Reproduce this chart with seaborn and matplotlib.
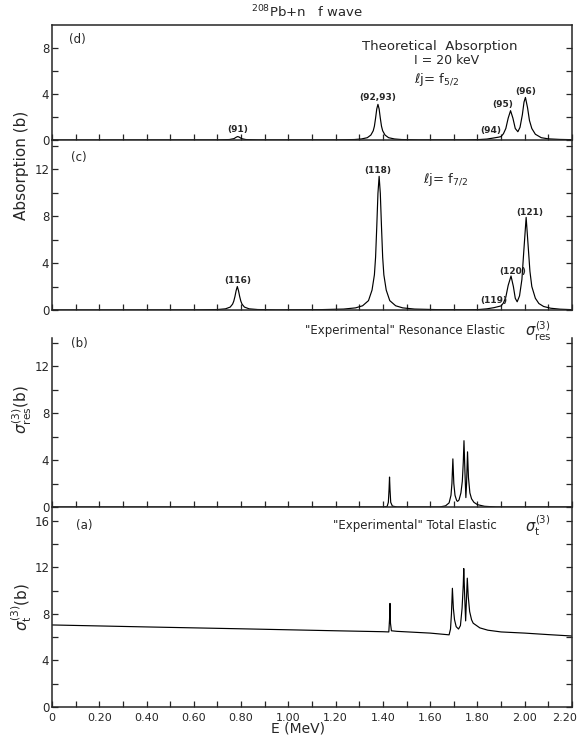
import matplotlib
matplotlib.use("Agg")
import matplotlib.pyplot as plt
import matplotlib.transforms as mtransforms
import seaborn as sns
import pandas as pd

sns.set_style("ticks")
plt.rcParams['font.family'] = ['DejaVu Sans']
plt.rcParams['mathtext.fontset'] = 'dejavusans'

# ---------------- data ----------------
# (d) theoretical absorption, lj = f5/2
d_E = [0.0, 0.70, 0.75, 0.77, 0.78, 0.786, 0.792, 0.802, 0.82, 0.87,
       1.20, 1.279, 1.309, 1.334, 1.349, 1.359, 1.364, 1.369, 1.374, 1.379, 1.384, 1.389,
       1.394, 1.399, 1.409, 1.424, 1.449, 1.479, 1.55, 1.75,
       1.80, 1.84, 1.87, 1.89, 1.90, 1.91, 1.92, 1.93, 1.94, 1.95, 1.96, 1.971, 1.98,
       1.99, 1.997, 2.003, 2.012, 2.02, 2.03, 2.045, 2.07, 2.10, 2.15, 2.20]
d_abs = [0.0, 0.01, 0.04, 0.12, 0.25, 0.3, 0.25, 0.12, 0.04, 0.01,
         0.01, 0.04, 0.09, 0.2, 0.43, 0.8, 1.2, 1.9, 2.7, 3.1, 2.7, 1.9,
         1.2, 0.8, 0.43, 0.2, 0.09, 0.04, 0.01, 0.01,
         0.03, 0.08, 0.18, 0.25, 0.3, 0.55, 1.0, 1.9, 2.55, 1.9, 1.0, 0.72, 1.1,
         2.2, 3.3, 3.7, 2.8, 1.7, 1.0, 0.5, 0.2, 0.1, 0.05, 0.03]

# (c) theoretical absorption, lj = f7/2
c_E = [0.0, 0.60, 0.70, 0.734, 0.754, 0.764, 0.769, 0.774, 0.779, 0.784, 0.789, 0.794,
       0.799, 0.804, 0.814, 0.834, 0.87, 0.95,
       1.134, 1.234, 1.284, 1.314, 1.339, 1.354, 1.364, 1.369, 1.374, 1.379, 1.384, 1.389,
       1.394, 1.399, 1.404, 1.414, 1.429, 1.454, 1.484, 1.534, 1.634, 1.75,
       1.80, 1.84, 1.87, 1.89, 1.90, 1.91, 1.92, 1.93, 1.942, 1.952, 1.960, 1.968, 1.978,
       1.988, 1.996, 2.006, 2.014, 2.022, 2.03, 2.045, 2.06, 2.08, 2.11, 2.15, 2.20]
c_abs = [0.0, 0.01, 0.04, 0.1, 0.25, 0.5, 0.75, 1.15, 1.65, 2.0, 1.65, 1.15,
         0.75, 0.5, 0.25, 0.1, 0.04, 0.01,
         0.03, 0.08, 0.18, 0.36, 0.8, 1.7, 3.0, 4.5, 7.1, 9.95, 11.4, 9.95,
         7.1, 4.5, 3.0, 1.7, 0.8, 0.36, 0.18, 0.08, 0.03, 0.02,
         0.03, 0.1, 0.2, 0.3, 0.35, 0.6, 1.1, 2.1, 2.9, 2.0, 1.0, 0.7, 1.2,
         2.6, 5.0, 7.9, 5.6, 3.3, 2.0, 1.0, 0.55, 0.3, 0.15, 0.07, 0.03]

# (b) "experimental" resonance elastic
b_E = [0.0, 1.40, 1.418, 1.423, 1.426, 1.428, 1.430, 1.433, 1.44, 1.46,
       1.64, 1.665, 1.68, 1.688, 1.692, 1.696, 1.700, 1.705, 1.712, 1.716, 1.722, 1.73,
       1.736, 1.740, 1.743, 1.747, 1.751, 1.754, 1.758, 1.762, 1.768, 1.775, 1.785,
       1.80, 1.83, 1.88, 2.20]
b_res = [0.0, 0.0, 0.05, 0.4, 1.5, 2.55, 1.5, 0.4, 0.08, 0.0,
         0.0, 0.1, 0.35, 1.0, 2.0, 4.1, 2.0, 1.0, 0.55, 0.48, 0.6, 1.2,
         2.2, 3.8, 5.65, 3.0, 0.8, 2.0, 4.7, 2.5, 1.2, 0.7, 0.4,
         0.2, 0.06, 0.0, 0.0]

# (a) "experimental" total elastic
a_E = [0.0, 0.4, 0.8, 1.2, 1.40, 1.425, 1.428, 1.430, 1.432, 1.436, 1.46, 1.6,
       1.67, 1.680, 1.686, 1.690, 1.694, 1.698, 1.703, 1.710, 1.720, 1.728, 1.735,
       1.740, 1.742, 1.746, 1.750, 1.753, 1.757, 1.761, 1.767, 1.775, 1.782, 1.81,
       1.844, 1.90, 2.0, 2.1, 2.2]
a_tot = [7.05, 6.88, 6.72, 6.55, 6.47, 6.45, 7.5, 8.9, 7.2, 6.55, 6.5, 6.35,
         6.22, 6.2, 6.7, 8.0, 10.2, 8.5, 7.5, 6.9, 6.7, 7.0, 8.5,
         10.5, 11.9, 9.5, 7.4, 9.0, 11.07, 9.5, 8.2, 7.5, 7.2, 6.8,
         6.6, 6.45, 6.35, 6.22, 6.1]

# peak labels
d_labels = ["(91)", "(92,93)", "(94)", "(95)", "(96)"]
d_lab_E = [0.784, 1.38, 1.856, 1.907, 2.004]
d_lab_y = [0.95, 3.7, 0.85, 3.1, 4.2]
c_labels = ["(116)", "(118)", "(119)", "(120)", "(121)"]
c_lab_E = [0.784, 1.38, 1.87, 1.95, 2.02]
c_lab_y = [2.55, 11.9, 0.85, 3.3, 8.3]

x_tick_labels = ["0", "0.20", "0.40", "0.60", "0.80", "1.00", "1.20", "1.40",
                 "1.60", "1.80", "2.00", "2.20"]

# ---------------- figure ----------------
W, H = 580, 738
fig = plt.figure(figsize=(W / 100, H / 100), dpi=100)

def add_ax(top, bottom, left=52, right=572):
    return fig.add_axes([left / W, 1 - bottom / H, (right - left) / W, (bottom - top) / H])

ax_d = add_ax(25, 140)
ax_c = add_ax(140, 310)
ax_b = add_ax(338, 507)
ax_a = add_ax(508, 707)

panels = [
    (ax_d, d_E, d_abs, 10.0, [0, 4, 8], [2, 6]),
    (ax_c, c_E, c_abs, 14.5, [0, 4, 8, 12], [2, 6, 10, 14]),
    (ax_b, b_E, b_res, 14.4, [0, 4, 8, 12], [2, 6, 10, 14]),
    (ax_a, a_E, a_tot, 17.1, [0, 4, 8, 12, 16], [2, 6, 10, 14]),
]

xmaj = [i * 0.2 for i in range(len(x_tick_labels))]
xmin = [0.1 + i * 0.2 for i in range(len(x_tick_labels) - 1)]

for ax, xs, ys, ytop, ymaj, ymin in panels:
    df = pd.DataFrame({"E": xs, "v": ys})
    sns.lineplot(data=df, x="E", y="v", ax=ax, color="black", lw=0.85,
                 estimator=None, sort=False)
    ax.set_xlim(0, 2.2)
    ax.set_ylim(0, ytop)
    ax.set_xlabel("")
    ax.set_ylabel("")
    ax.set_xticks(xmaj)
    ax.set_xticks(xmin, minor=True)
    ax.set_yticks(ymaj)
    ax.set_yticks(ymin, minor=True)
    ax.set_yticklabels([str(v) for v in ymaj])
    ax.tick_params(which="both", direction="in", right=True, top=False,
                   length=4, width=0.9, labelsize=8.5, pad=2)
    for s in ax.spines.values():
        s.set_linewidth(1.1)
    ax.patch.set_alpha(0)
    if ax is ax_a:
        ax.set_xticklabels(x_tick_labels)
        ax.tick_params(axis="x", labelsize=8, pad=4)
    else:
        ax.set_xticklabels([])
    if ax is not ax_d:
        ax.spines["top"].set_visible(False)

# shift the last x tick label a bit left so it stays inside the figure
last = ax_a.get_xticklabels()[-1]
last.set_transform(last.get_transform() + mtransforms.ScaledTranslation(-7 / 100, 0, fig.dpi_scale_trans))

# ---------------- annotations ----------------
fs = 8.5
ax_d.text(0.07, 8.7, "(d)", fontsize=fs, va="center")
ax_d.text(1.64, 8.1, "Theoretical  Absorption", fontsize=9.5, ha="center", va="center")
ax_d.text(1.67, 6.9, "I = 20 keV", fontsize=9, ha="center", va="center")
ax_d.text(1.53, 5.2, r"$\ell$j= f$_{5/2}$", fontsize=9.5, ha="left", va="center")
for lab, xe, yv in zip(d_labels, d_lab_E, d_lab_y):
    ax_d.text(xe, yv, lab, fontsize=6.5, ha="center", va="center", fontweight="bold")

ax_c.text(0.08, 13.0, "(c)", fontsize=fs, va="center")
ax_c.text(1.57, 11.1, r"$\ell$j= f$_{7/2}$", fontsize=9.5, ha="left", va="center")
for lab, xe, yv in zip(c_labels, c_lab_E, c_lab_y):
    ax_c.text(xe, yv, lab, fontsize=6.5, ha="center", va="center", fontweight="bold")

ax_b.text(0.08, 13.9, "(b)", fontsize=fs, va="center")
ax_b.text(1.07, 15.0, "\"Experimental\" Resonance Elastic",
          fontsize=8.5, ha="left", va="center", clip_on=False)
ax_b.text(2.0, 15.0, r"$\sigma^{(3)}_{\rm res}$", fontsize=10.5, ha="left", va="center",
          clip_on=False)

ax_a.text(0.10, 15.6, "(a)", fontsize=fs, va="center")
ax_a.text(1.19, 15.6, "\"Experimental\" Total Elastic",
          fontsize=8.5, ha="left", va="center", clip_on=False)
ax_a.text(2.0, 15.6, r"$\sigma^{(3)}_{\rm t}$", fontsize=10.5, ha="left", va="center",
          clip_on=False)

fig.text(0.53, 1 - 12 / H, r"$^{208}$Pb+n   f wave", fontsize=9.5, ha="center", va="center")
fig.text(22 / W, 1 - 165 / H, "Absorption (b)", fontsize=11, rotation=90, ha="center", va="center")
fig.text(22 / W, 1 - 410 / H, r"$\sigma^{(3)}_{\rm res}$(b)", fontsize=11, rotation=90,
         ha="center", va="center")
fig.text(22 / W, 1 - 607 / H, r"$\sigma^{(3)}_{\rm t}$(b)", fontsize=11, rotation=90,
         ha="center", va="center")
fig.text(298 / W, 1 - 729 / H, "E (MeV)", fontsize=10, ha="center", va="center")

fig.savefig("out.png", dpi=100)
